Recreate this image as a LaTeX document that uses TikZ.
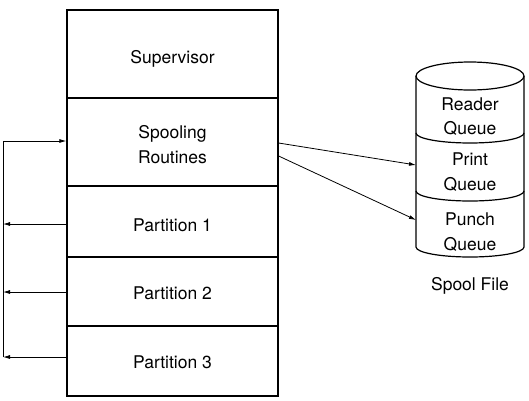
\documentclass[tikz,border=0pt]{standalone}
\usepackage{fontspec}
\setmainfont{TeX Gyre Heros}
\usetikzlibrary{arrows.meta}
\begin{document}
\begin{tikzpicture}[x=1pt, y=-1pt, line width=1.2pt,
    every node/.style={font=\fontsize{17.5}{24.5}\selectfont, align=center, inner sep=0pt},
    part/.style={draw, minimum width=211pt},
    tip/.style={-{Latex[length=7pt,width=4pt]}, line width=0.8pt}]
  \useasboundingbox (0,0) rectangle (529,400);
  % memory layout
  \node [part, minimum height=88pt, label={[yshift=-5pt]center:Supervisor}] (sup) at (172.5,54) {};
  \node [part, minimum height=88pt, label={[yshift=-2.5pt]center:Spooling\\Routines}] (spool) at (172.5,142) {};
  \node [part, minimum height=71pt, label={[yshift=-3.5pt]center:Partition 1}] (p1) at (172.5,221.5) {};
  \node [part, minimum height=69pt, label={[yshift=-2pt]center:Partition 2}] (p2) at (172.5,291.5) {};
  \node [part, minimum height=70pt, label={[yshift=-1.5pt]center:Partition 3}] (p3) at (172.5,361) {};
  % spool file cylinder
  \draw (470,76) ellipse [x radius=54, y radius=14];
  \draw (416,76) -- (416,247) arc [start angle=180, end angle=0, x radius=54, y radius=10] -- (524,76);
  \draw (416,133) arc [start angle=180, end angle=0, x radius=54, y radius=10];
  \draw (416,191) arc [start angle=180, end angle=0, x radius=54, y radius=10];
  \node (reader) at (470,116.5) {Reader\\Queue};
  \node (print) at (470,172) {Print\\Queue};
  \node (punch) at (470,232) {Punch\\Queue};
  \node (file) at (470,286) {Spool File};
  \coordinate (in1) at (416,165);
  \coordinate (in2) at (416,220);
  \draw [tip] ([yshift=-1pt]spool.east) -- (in1);
  \draw [tip] ([yshift=-14pt]spool.east) -- (in2);
  % return paths
  \coordinate (bus0) at (3,141);
  \coordinate (bus1) at (3,224);
  \coordinate (bus2) at (3,292);
  \coordinate (bus3) at (3,357);
  \draw [tip] (bus3) -- (bus0) -- ([yshift=1pt]spool.west);
  \draw [tip] ([yshift=-2.5pt]p1.west) -- (bus1);
  \draw [tip] ([yshift=-0.5pt]p2.west) -- (bus2);
  \draw [tip] ([yshift=4pt]p3.west) -- (bus3);
\end{tikzpicture}
\end{document}
